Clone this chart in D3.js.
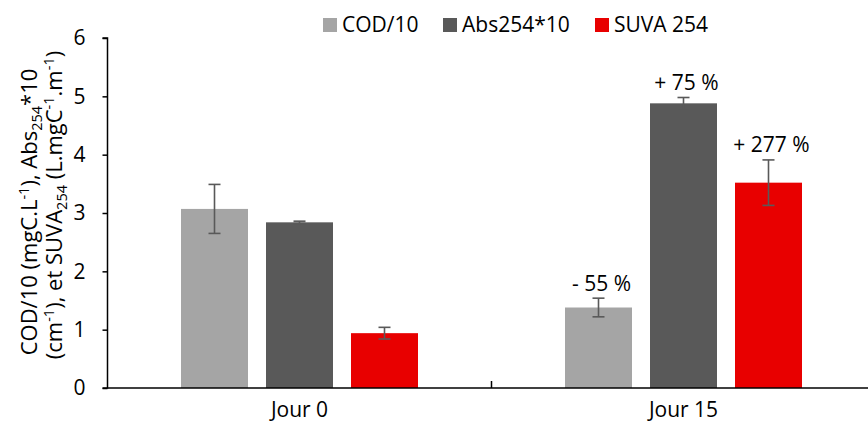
<!DOCTYPE html>
<html><head><meta charset="utf-8">
<script src="https://cdn.jsdelivr.net/npm/d3@7"></script>
<style>
body{margin:0;background:#fff;}
svg{display:block;font-family:"Open Sans", Lato, sans-serif;}
</style></head>
<body><svg id="c" width="868" height="425"></svg>
<script>
const categories = ["Jour 0", "Jour 15"];
const seriesNames = ["COD/10", "Abs254*10", "SUVA 254"];
const codValues = [3.07, 1.38];
const absValues = [2.84, 4.88];
const suvaValues = [0.94, 3.52];
const codErrors = [0.42, 0.16];
const absErrors = [0.02, 0.10];
const suvaErrors = [0.10, 0.39];
const changeLabels = [["", "", ""], ["- 55 %", "+ 75 %", "+ 277 %"]];
const yTicks = [0, 1, 2, 3, 4, 5, 6];
const colors = ["#A5A5A5", "#595959", "#E80000"];

const FS = 21;
const svg = d3.select("#c");
const x0 = d3.scaleBand().domain(categories).range([107.5, 875.5]).paddingInner(0).paddingOuter(0);
const x1 = d3.scaleBand().domain(seriesNames).range([-118.5, 118.5]).paddingInner(18/85).paddingOuter(0);
const y = d3.scaleLinear().domain([0, 6]).range([388, 38]);

const values = [codValues, absValues, suvaValues];
const errors = [codErrors, absErrors, suvaErrors];

// bars
categories.forEach((cat, ci) => {
  const cx = x0(cat) + x0.bandwidth() / 2;
  seriesNames.forEach((s, si) => {
    const v = values[si][ci];
    svg.append("rect")
      .attr("x", cx + x1(s)).attr("y", y(v))
      .attr("width", x1.bandwidth()).attr("height", y(0) - y(v))
      .attr("fill", colors[si]);
  });
});
// error bars + labels
categories.forEach((cat, ci) => {
  const cx = x0(cat) + x0.bandwidth() / 2;
  seriesNames.forEach((s, si) => {
    const v = values[si][ci], e = errors[si][ci];
    const bx = cx + x1(s) + x1.bandwidth() / 2;
    const g = svg.append("g").attr("stroke", "#595959").attr("stroke-width", 1.6);
    g.append("line").attr("x1", bx).attr("x2", bx).attr("y1", y(v + e)).attr("y2", y(v - e));
    g.append("line").attr("x1", bx - 6).attr("x2", bx + 6).attr("y1", y(v + e)).attr("y2", y(v + e));
    g.append("line").attr("x1", bx - 6).attr("x2", bx + 6).attr("y1", y(v - e)).attr("y2", y(v - e));
    const lab = changeLabels[ci][si];
    if (lab) {
      svg.append("text").attr("x", bx + 3).attr("y", y(v + e) - 7.5)
        .attr("text-anchor", "middle").attr("font-size", FS).attr("fill", "#000").text(lab);
    }
  });
});

// y axis
const yAxis = d3.axisLeft(y).tickValues(yTicks).tickSize(5).tickPadding(17).tickFormat(d3.format("d"));
const ga = svg.append("g").attr("transform", "translate(107.5,0)").call(yAxis);
ga.attr("font-family", null);
ga.select(".domain").attr("stroke", "#000").attr("stroke-width", 1.5).attr("d", "M-5,38H0V388H-5");
ga.selectAll(".tick line").attr("stroke", "#000").attr("stroke-width", 1.5);
ga.selectAll(".tick text").attr("font-size", FS).attr("fill", "#000");

// x axis
const xAxis = d3.axisBottom(x0).tickSize(0).tickPadding(14);
const gx = svg.append("g").attr("transform", "translate(0,388)").call(xAxis);
gx.attr("font-family", null);
gx.select(".domain").attr("stroke", "#000").attr("stroke-width", 1.5).attr("d", "M107.5,0H875.5");
gx.selectAll(".tick text").attr("font-size", FS).attr("fill", "#000");
// category separator tick
svg.append("line").attr("x1", x0("Jour 15")).attr("x2", x0("Jour 15")).attr("y1", 388).attr("y2", 381)
  .attr("stroke", "#000").attr("stroke-width", 1.5);

// y title
const TS = 22, SS = 14.5;
const t1 = svg.append("text").attr("transform", "translate(37,212) rotate(-90)")
  .attr("text-anchor", "middle").attr("font-size", TS).attr("fill", "#000");
t1.append("tspan").text("COD/10 (mgC.L");
t1.append("tspan").text("-1").attr("font-size", SS).attr("dy", -8);
t1.append("tspan").text("), Abs").attr("dy", 8);
t1.append("tspan").text("254").attr("font-size", SS).attr("dy", 5);
t1.append("tspan").text("*10").attr("dy", -5);
const t2 = svg.append("text").attr("transform", "translate(62,205) rotate(-90)")
  .attr("text-anchor", "middle").attr("font-size", TS).attr("fill", "#000");
t2.append("tspan").text("(cm");
t2.append("tspan").text("-1").attr("font-size", SS).attr("dy", -8);
t2.append("tspan").text("), et SUVA").attr("dy", 8);
t2.append("tspan").text("254").attr("font-size", SS).attr("dy", 5);
t2.append("tspan").text(" (L.mgC").attr("dy", -5);
t2.append("tspan").text("-1").attr("font-size", SS).attr("dy", -8);
t2.append("tspan").text(".m").attr("dy", 8);
t2.append("tspan").text("-1").attr("font-size", SS).attr("dy", -8);
t2.append("tspan").text(")").attr("dy", 8);

// legend
const legX = [323, 443, 595];
seriesNames.forEach((s, i) => {
  svg.append("rect").attr("x", legX[i]).attr("y", 18).attr("width", 14).attr("height", 14).attr("fill", colors[i]);
  svg.append("text").attr("x", legX[i] + 19).attr("y", 32).attr("font-size", FS).attr("fill", "#000").text(s);
});
</script></body></html>
